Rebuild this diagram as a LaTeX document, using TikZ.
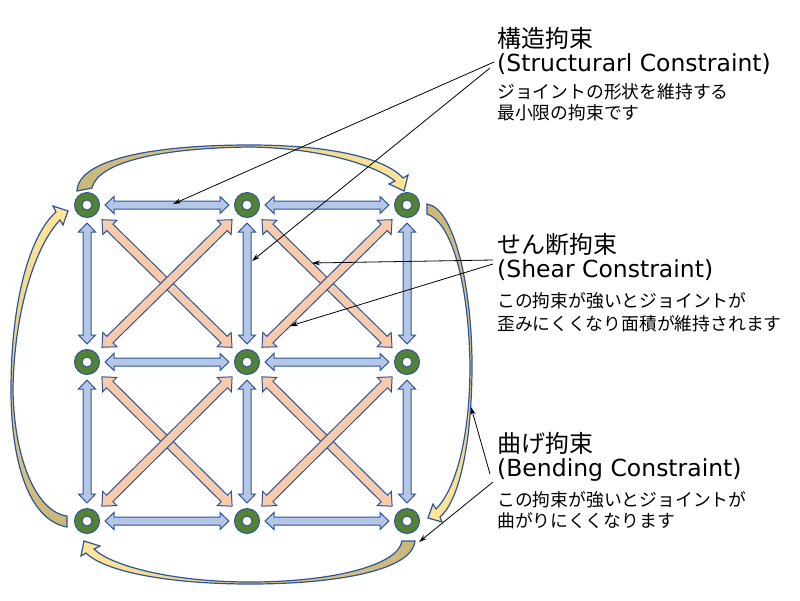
\documentclass[tikz,border=0pt]{standalone}
\usepackage{fontspec}
\setmainfont{DejaVu Sans}
\newfontfamily\jp{Noto Sans CJK JP}
\usetikzlibrary{calc,arrows.meta}
\definecolor{bord}{HTML}{2F5597}
\definecolor{bluef}{HTML}{B4C7E7}
\definecolor{orangef}{HTML}{F8CBAD}
\definecolor{ringg}{HTML}{548235}
\definecolor{tanc}{HTML}{C9B77A}
\definecolor{yelc}{HTML}{FFE699}
\tikzset{
 ring/.style={circle, minimum size=25pt, inner sep=0pt, fill=ringg, draw=bord, line width=1pt,
   path picture={\draw[fill=white, draw=bord, line width=1pt] (path picture bounding box.center) circle (5pt);}},
 bluearr/.style={draw=bord, fill=bluef, line width=1pt},
 orarr/.style={draw=bord, fill=orangef, line width=1pt},
 bendarr/.style={draw=bord, line width=1.2pt},
 leader/.style={draw=black, line width=0.8pt, -{Stealth[length=8pt,width=5pt]}},
 ttl/.style={anchor=west, inner sep=0pt, font=\jp\fontsize{24}{28}\selectfont},
 eng/.style={anchor=west, inner sep=0pt, font=\fontsize{23.5}{28}\selectfont},
 desc/.style={anchor=west, inner sep=0pt, font=\jp\fontsize{17.8}{21}\selectfont},
}
% #1 style, #2 from, #3 to, #4 gap, #5 shaft half width, #6 head half width, #7 head length
\newcommand\fatarrow[7]{%
 \path[#1] let \p1=($(#3)-(#2)$), \n1={atan2(\y1,\x1)}, \n2={veclen(\x1,\y1)} in
  [shift={(#2)}, rotate=\n1]
  (#4pt,0pt) -- ({#4pt+#7pt},#6pt) -- ({#4pt+#7pt},#5pt)
  -- ({\n2*1pt-#4pt-#7pt},#5pt) -- ({\n2*1pt-#4pt-#7pt},#6pt) -- ({\n2*1pt-#4pt},0pt)
  -- ({\n2*1pt-#4pt-#7pt},-#6pt) -- ({\n2*1pt-#4pt-#7pt},-#5pt)
  -- ({#4pt+#7pt},-#5pt) -- ({#4pt+#7pt},-#6pt) -- cycle;}
\begin{document}
\begin{tikzpicture}[x=1pt,y=-1pt]
\useasboundingbox (0,0) rectangle (800,600);
% joints
\node[ring] (a1) at (87,205) {};
\node[ring] (a2) at (247,205) {};
\node[ring] (a3) at (407,205) {};
\node[ring] (b1) at (87,362) {};
\node[ring] (b2) at (247,362) {};
\node[ring] (b3) at (407,362) {};
\node[ring] (c1) at (87,521) {};
\node[ring] (c2) at (247,521) {};
\node[ring] (c3) at (407,521) {};
% bending arrows
\draw[bendarr, left color=tanc, right color=yelc] (77,191) .. controls (78,160) and (150,145) .. (250,145) .. controls (330,145) and (385,158) .. (403,178) -- (408,175) -- (404,191) -- (389,184) -- (395,181) .. controls (375,165) and (320,148) .. (250,147) .. controls (160,148) and (98,162) .. (92,188) -- cycle;
\draw[bendarr, top color=tanc, bottom color=yelc] (427,204) .. controls (455,208) and (472,290) .. (472,365) .. controls (472,440) and (460,500) .. (440,517) -- (442,522) -- (428,518) -- (433,504) -- (436,509) .. controls (455,490) and (470,440) .. (470,365) .. controls (469,295) and (455,224) .. (427,214) -- cycle;
\draw[bendarr, left color=yelc, right color=tanc] (415,541) .. controls (412,572) and (330,584) .. (250,584) .. controls (170,584) and (105,572) .. (86,553) -- (81,556) -- (84,541) -- (100,546) -- (94,549) .. controls (110,565) and (170,582) .. (250,582) .. controls (330,582) and (398,566) .. (402,541) -- cycle;
\draw[bendarr, bottom color=tanc, top color=yelc] (67,527) .. controls (28,520) and (11,460) .. (11,390) .. controls (11,300) and (30,235) .. (56,212) -- (53,206) -- (68,211) -- (63,225) -- (60,220) .. controls (36,245) and (14,310) .. (13,390) .. controls (14,458) and (36,512) .. (67,516) -- cycle;
% shear arrows
\fatarrow{orarr}{a1}{b2}{21}{4.5}{10}{11}
\fatarrow{orarr}{a2}{b1}{21}{4.5}{10}{11}
\fatarrow{orarr}{a2}{b3}{21}{4.5}{10}{11}
\fatarrow{orarr}{a3}{b2}{21}{4.5}{10}{11}
\fatarrow{orarr}{b1}{c2}{21}{4.5}{10}{11}
\fatarrow{orarr}{b2}{c1}{21}{4.5}{10}{11}
\fatarrow{orarr}{b2}{c3}{21}{4.5}{10}{11}
\fatarrow{orarr}{b3}{c2}{21}{4.5}{10}{11}
% structural arrows
\fatarrow{bluearr}{a1}{a2}{18}{4}{8.5}{9}
\fatarrow{bluearr}{a2}{a3}{18}{4}{8.5}{9}
\fatarrow{bluearr}{b1}{b2}{18}{4}{8.5}{9}
\fatarrow{bluearr}{b2}{b3}{18}{4}{8.5}{9}
\fatarrow{bluearr}{c1}{c2}{18}{4}{8.5}{9}
\fatarrow{bluearr}{c2}{c3}{18}{4}{8.5}{9}
\fatarrow{bluearr}{a1}{b1}{18}{4}{8.5}{9}
\fatarrow{bluearr}{b1}{c1}{18}{4}{8.5}{9}
\fatarrow{bluearr}{a2}{b2}{18}{4}{8.5}{9}
\fatarrow{bluearr}{b2}{c2}{18}{4}{8.5}{9}
\fatarrow{bluearr}{a3}{b3}{18}{4}{8.5}{9}
\fatarrow{bluearr}{b3}{c3}{18}{4}{8.5}{9}
% texts
\node[ttl] (t1) at (497,38) {構造拘束};
\node[eng] (t2) at (497,64) {(Structurarl Constraint)};
\node[desc] (t3) at (497,92) {ジョイントの形状を維持する};
\node[desc] (t4) at (497,113) {最小限の拘束です};
\node[ttl] (t5) at (497,244) {せん断拘束};
\node[eng] (t6) at (497,270) {(Shear Constraint)};
\node[desc] (t7) at (497,301) {この拘束が強いとジョイントが};
\node[desc] (t8) at (497,324) {歪みにくくなり面積が維持されます};
\node[ttl] (t9) at (497,443) {曲げ拘束};
\node[eng] (t10) at (497,470) {(Bending Constraint)};
\node[desc] (t11) at (497,500) {この拘束が強いとジョイントが};
\node[desc] (t12) at (497,521) {曲がりにくくなります};
% leaders
\coordinate (s1a) at (494,62); \coordinate (e1a) at (173,204);
\coordinate (s1b) at (490,68); \coordinate (e1b) at (252,261);
\coordinate (s2a) at (493,260); \coordinate (e2a) at (312,263);
\coordinate (s2b) at (493,264); \coordinate (e2b) at (290,326);
\coordinate (s3a) at (490,474); \coordinate (e3a) at (471,407);
\coordinate (s3b) at (493,482); \coordinate (e3b) at (419,542);
\draw[leader] (s1a) -- (e1a);
\draw[leader] (s1b) -- (e1b);
\draw[leader] (s2a) -- (e2a);
\draw[leader] (s2b) -- (e2b);
\draw[leader] (s3a) -- (e3a);
\draw[leader] (s3b) -- (e3b);
\end{tikzpicture}
\end{document}
